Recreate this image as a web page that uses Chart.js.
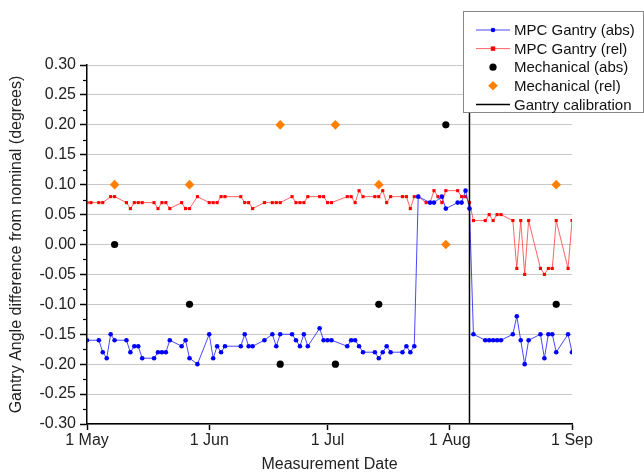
<!DOCTYPE html>
<html>
<head>
<meta charset="utf-8">
<script src="https://cdn.jsdelivr.net/npm/chart.js@4.4.1/dist/chart.umd.min.js"></script>
<style>
  html, body { margin: 0; padding: 0; background: #fff; }
  #wrap { width: 644px; height: 472px; }
</style>
</head>
<body>
<div id="wrap"><canvas id="gantry" width="644" height="472"></canvas></div>
<script>
// x values are days since 1 May
const monthTicks = [0, 31, 61, 92, 123];
const monthLabels = ["1 May", "1 Jun", "1 Jul", "1 Aug", "1 Sep"];

const mpcAbsDays = [0, 3, 4, 5, 6, 7, 10, 11, 12, 13, 14, 17, 18, 19, 20, 21, 24, 25, 26, 28,
  31, 32, 33, 34, 35, 39, 40, 41, 42, 45, 47, 48, 49, 52, 53, 54, 55, 56, 59, 60, 61, 62,
  66, 67, 68, 69, 70, 73, 74, 75, 76, 77, 80, 81, 82, 83, 84, 87, 88, 90, 91, 94, 95, 96, 97,
  98, 101, 102, 103, 104, 105, 108, 109, 110, 111, 112, 115, 116, 117, 118, 119, 122, 123];
const mpcAbs = [-0.16, -0.16, -0.18, -0.19, -0.15, -0.16, -0.16, -0.18, -0.17, -0.17, -0.19, -0.19, -0.18, -0.18, -0.18, -0.16, -0.17, -0.16, -0.19, -0.20,
  -0.15, -0.19, -0.17, -0.18, -0.17, -0.17, -0.15, -0.17, -0.17, -0.16, -0.15, -0.17, -0.15, -0.15, -0.16, -0.17, -0.15, -0.17, -0.14, -0.16, -0.16, -0.16,
  -0.17, -0.16, -0.16, -0.17, -0.18, -0.18, -0.19, -0.18, -0.17, -0.18, -0.18, -0.17, -0.18, -0.17, 0.08, 0.07, 0.07, 0.08, 0.06, 0.07, 0.07, 0.09, 0.06,
  -0.15, -0.16, -0.16, -0.16, -0.16, -0.16, -0.15, -0.12, -0.16, -0.20, -0.16, -0.15, -0.19, -0.15, -0.15, -0.18, -0.15, -0.18];

const mpcRelDays = [0, 1, 3, 4, 6, 7, 10, 11, 12, 13, 14, 17, 18, 19, 20, 21, 24, 25, 26, 28,
  31, 32, 33, 34, 35, 39, 40, 41, 42, 45, 47, 48, 49, 52, 53, 54, 55, 56, 59, 60, 61, 62,
  66, 67, 68, 69, 70, 73, 74, 75, 76, 77, 80, 81, 82, 83, 84, 86, 87, 88, 89, 90, 91, 94, 95, 96, 97,
  98, 101, 102, 103, 104, 105, 108, 109, 110, 111, 112, 115, 116, 117, 118, 119, 122, 123];
const mpcRel = [0.07, 0.07, 0.07, 0.07, 0.08, 0.08, 0.07, 0.06, 0.07, 0.07, 0.07, 0.07, 0.06, 0.07, 0.07, 0.06, 0.07, 0.06, 0.06, 0.08,
  0.07, 0.07, 0.07, 0.08, 0.08, 0.08, 0.07, 0.07, 0.06, 0.07, 0.07, 0.07, 0.07, 0.08, 0.07, 0.07, 0.07, 0.08, 0.08, 0.08, 0.07, 0.07,
  0.08, 0.08, 0.07, 0.09, 0.08, 0.08, 0.08, 0.09, 0.07, 0.08, 0.08, 0.08, 0.06, 0.08, 0.08, 0.07, 0.07, 0.09, 0.08, 0.07, 0.09, 0.09, 0.08, 0.08, 0.07,
  0.04, 0.04, 0.05, 0.04, 0.05, 0.05, 0.04, -0.04, 0.04, -0.05, 0.04, -0.04, -0.05, -0.04, -0.04, 0.04, -0.04, 0.04];

const mechDays = [7, 26, 49, 63, 74, 91, 119];
const mechAbs = [0.00, -0.10, -0.20, -0.20, -0.10, 0.20, -0.10];
const mechRel = [0.10, 0.10, 0.20, 0.20, 0.10, 0.00, 0.10];

const calibrationDay = 97;
const yRange = [-0.30, 0.30];

const pts = (xs, ys) => xs.map((x, i) => ({ x: x, y: ys[i] }));
const FONT = "'Liberation Sans', Arial, sans-serif";

Chart.defaults.font.family = FONT;
Chart.defaults.color = "#222";

// short minor ticks on the y axis, halfway between the labelled ones
const minorTicks = {
  id: "minorTicks",
  afterDraw(chart) {
    const y = chart.scales.y;
    const ctx = chart.ctx;
    ctx.save();
    ctx.strokeStyle = "#000";
    ctx.lineWidth = 1.2;
    for (let v = yRange[0] + 0.025; v < yRange[1]; v += 0.05) {
      const py = Math.round(y.getPixelForValue(v)) + 0.5;
      ctx.beginPath();
      ctx.moveTo(chart.chartArea.left - 4, py);
      ctx.lineTo(chart.chartArea.left, py);
      ctx.stroke();
    }
    ctx.restore();
  }
};

// boxed legend sitting over the top right corner of the plot
const legendBox = {
  id: "legendBox",
  afterDraw(chart) {
    const ctx = chart.ctx;
    ctx.save();
    ctx.fillStyle = "#fff";
    ctx.fillRect(463.5, 11.5, 180, 101);
    ctx.strokeStyle = "#888";
    ctx.lineWidth = 1;
    ctx.strokeRect(463.5, 11.5, 180, 101);
    ctx.font = "15px " + FONT;
    ctx.textBaseline = "middle";
    chart.data.datasets.forEach((ds, i) => {
      const y = 30 + i * 18.6;
      const mx = 493;
      if (ds.showLine) {
        ctx.strokeStyle = ds.borderColor;
        ctx.lineWidth = ds.borderWidth;
        ctx.beginPath();
        ctx.moveTo(476, y);
        ctx.lineTo(510, y);
        ctx.stroke();
      }
      ctx.fillStyle = ds.pointBackgroundColor;
      const r = ds.pointRadius;
      if (r > 0) {
        if (ds.pointStyle === "rect") {
          ctx.fillRect(mx - r, y - r, 2 * r, 2 * r);
        } else if (ds.pointStyle === "rectRot") {
          ctx.beginPath();
          ctx.moveTo(mx, y - r);
          ctx.lineTo(mx + r, y);
          ctx.lineTo(mx, y + r);
          ctx.lineTo(mx - r, y);
          ctx.closePath();
          ctx.fill();
        } else {
          ctx.beginPath();
          ctx.arc(mx, y, r, 0, Math.PI * 2);
          ctx.fill();
        }
      }
      ctx.fillStyle = "#111";
      ctx.fillText(ds.label, 514, y + 1);
    });
    ctx.restore();
  }
};

new Chart(document.getElementById("gantry"), {
  type: "scatter",
  data: {
    datasets: [
      {
        label: "MPC Gantry (abs)",
        data: pts(mpcAbsDays, mpcAbs),
        showLine: true,
        borderColor: "rgba(40,40,255,0.85)",
        borderWidth: 1,
        pointStyle: "circle",
        pointRadius: 2.3,
        pointBackgroundColor: "#0000ff",
        pointBorderWidth: 0,
        order: 3
      },
      {
        label: "MPC Gantry (rel)",
        data: pts(mpcRelDays, mpcRel),
        showLine: true,
        borderColor: "rgba(255,60,60,0.8)",
        borderWidth: 1,
        pointStyle: "rect",
        pointRadius: 2.2,
        pointBackgroundColor: "#ff0000",
        pointBorderWidth: 0,
        order: 4
      },
      {
        label: "Mechanical (abs)",
        data: pts(mechDays, mechAbs),
        showLine: false,
        borderColor: "#000",
        borderWidth: 0,
        pointStyle: "circle",
        pointRadius: 3.6,
        pointBackgroundColor: "#000",
        pointBorderWidth: 0,
        order: 1
      },
      {
        label: "Mechanical (rel)",
        data: pts(mechDays, mechRel),
        showLine: false,
        borderColor: "#ff8000",
        borderWidth: 0,
        pointStyle: "rectRot",
        pointRadius: 4.8,
        pointBackgroundColor: "#ff8000",
        pointBorderWidth: 0,
        order: 1
      },
      {
        label: "Gantry calibration",
        data: [{ x: calibrationDay, y: yRange[0] }, { x: calibrationDay, y: yRange[1] }],
        showLine: true,
        borderColor: "#000",
        borderWidth: 1.5,
        pointRadius: 0,
        pointBackgroundColor: "#000",
        order: 2
      }
    ]
  },
  options: {
    responsive: false,
    animation: false,
    devicePixelRatio: 1,
    layout: { padding: { top: 65, right: 72, left: 0, bottom: 0 } },
    plugins: {
      legend: { display: false },
      tooltip: { enabled: false }
    },
    scales: {
      x: {
        type: "linear",
        min: monthTicks[0],
        max: monthTicks[monthTicks.length - 1],
        afterFit: (s) => { s.height = 48; },
        afterBuildTicks: (s) => { s.ticks = monthTicks.map((v) => ({ value: v })); },
        ticks: {
          autoSkip: false,
          maxRotation: 0,
          padding: 1,
          font: { size: 16 },
          callback: (v) => monthLabels[monthTicks.indexOf(v)]
        },
        grid: { drawOnChartArea: false, drawTicks: true, tickLength: 6, tickColor: "#000", tickWidth: 1.5 },
        border: { color: "#000", width: 1.5 },
        title: { display: true, text: "Measurement Date", font: { size: 16 }, color: "#222", padding: { top: 0, bottom: -2 } }
      },
      y: {
        min: yRange[0],
        max: yRange[1],
        afterFit: (s) => { s.width = 87; },
        ticks: {
          stepSize: 0.05,
          padding: 4,
          font: { size: 16 },
          callback: (v) => (Math.abs(v) < 1e-9 ? 0 : v).toFixed(2)
        },
        grid: { color: "#c8c8c8", lineWidth: 1, drawTicks: true, tickLength: 7, tickColor: "#000", tickWidth: 1.5 },
        border: { color: "#000", width: 1.5 },
        title: { display: true, text: "Gantry Angle difference from nominal (degrees)", font: { size: 16 }, color: "#222", padding: { top: 7, bottom: 0 } }
      }
    }
  },
  plugins: [minorTicks, legendBox]
});
</script>
</body>
</html>
